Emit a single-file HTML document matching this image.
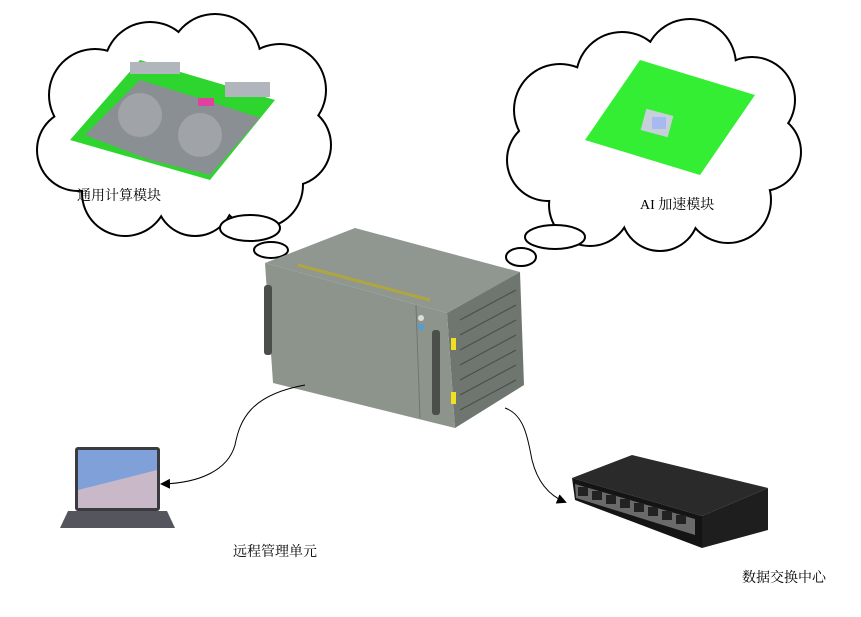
<!DOCTYPE html>
<html><head><meta charset="utf-8"><style>
html,body{margin:0;padding:0;background:#fff;width:861px;height:617px;overflow:hidden}
svg{display:block}
text{font-family:"Liberation Serif","Noto Serif CJK SC",serif;font-size:14px;fill:#000}
</style></head><body>
<svg width="861" height="617" viewBox="0 0 861 617" xmlns="http://www.w3.org/2000/svg">
<defs>
<marker id="ah" markerWidth="10" markerHeight="10" refX="8" refY="5" orient="auto" markerUnits="userSpaceOnUse">
<path d="M0,0 L10,5 L0,10 Z" fill="#000"/></marker>
</defs>
<g stroke="#000" stroke-width="4" fill="#fff">
<circle cx="95" cy="95" r="45"/><circle cx="150" cy="68" r="45"/><circle cx="215" cy="60" r="45"/>
<circle cx="280" cy="90" r="45"/><circle cx="290" cy="145" r="40"/><circle cx="260" cy="185" r="42"/>
<circle cx="195" cy="197" r="38"/><circle cx="125" cy="193" r="42"/><circle cx="78" cy="150" r="40"/>
</g>
<g fill="#fff">
<circle cx="95" cy="95" r="45"/><circle cx="150" cy="68" r="45"/><circle cx="215" cy="60" r="45"/>
<circle cx="280" cy="90" r="45"/><circle cx="290" cy="145" r="40"/><circle cx="260" cy="185" r="42"/>
<circle cx="195" cy="197" r="38"/><circle cx="125" cy="193" r="42"/><circle cx="78" cy="150" r="40"/>
<circle cx="185" cy="130" r="85"/>
</g>
<ellipse cx="250" cy="228" rx="30" ry="13" fill="#fff" stroke="#000" stroke-width="2"/>
<ellipse cx="271" cy="250" rx="17" ry="8" fill="#fff" stroke="#000" stroke-width="2"/>
<g stroke="#000" stroke-width="4" fill="#fff">
<circle cx="560" cy="110" r="45"/><circle cx="622" cy="78" r="45"/><circle cx="690" cy="65" r="45"/>
<circle cx="752" cy="100" r="42"/><circle cx="762" cy="152" r="38"/><circle cx="728" cy="200" r="42"/>
<circle cx="660" cy="212" r="38"/><circle cx="590" cy="205" r="40"/><circle cx="548" cy="160" r="40"/>
</g>
<g fill="#fff">
<circle cx="560" cy="110" r="45"/><circle cx="622" cy="78" r="45"/><circle cx="690" cy="65" r="45"/>
<circle cx="752" cy="100" r="42"/><circle cx="762" cy="152" r="38"/><circle cx="728" cy="200" r="42"/>
<circle cx="660" cy="212" r="38"/><circle cx="590" cy="205" r="40"/><circle cx="548" cy="160" r="40"/>
<circle cx="655" cy="140" r="85"/>
</g>
<ellipse cx="555" cy="237" rx="30" ry="12" fill="#fff" stroke="#000" stroke-width="2"/>
<ellipse cx="521" cy="257" rx="15" ry="9" fill="#fff" stroke="#000" stroke-width="2"/>
<polygon points="70,140 140,60 275,100 210,180" fill="#2fd52f"/>
<polygon points="85,135 140,80 205,100 150,160" fill="#8a8f94"/>
<polygon points="150,160 205,100 260,118 210,175" fill="#8a8f94"/>
<circle cx="140" cy="115" r="22" fill="#a0a4a8"/><circle cx="200" cy="135" r="22" fill="#a0a4a8"/>
<rect x="130" y="62" width="50" height="12" fill="#b0b6bb"/><rect x="225" y="82" width="45" height="15" fill="#b0b6bb"/>
<rect x="198" y="98" width="16" height="8" fill="#e040a0"/>
<polygon points="585,140 640,60 755,95 700,175" fill="#33ee33"/>
<rect x="643" y="112" width="28" height="22" fill="#c5d0d8" transform="rotate(15 657 123)"/>
<rect x="652" y="117" width="14" height="12" fill="#a8b8f0"/>
<polygon points="265,263 355,228 520,272 447,313" fill="#8f9790"/>
<polygon points="447,313 520,272 524,385 455,428" fill="#6f7670"/>
<g stroke="#4a4f4a" stroke-width="1.2">
<line x1="460" y1="320" x2="516" y2="290"/><line x1="460" y1="335" x2="516" y2="305"/><line x1="460" y1="350" x2="516" y2="320"/>
<line x1="460" y1="365" x2="516" y2="335"/><line x1="460" y1="380" x2="516" y2="350"/><line x1="460" y1="395" x2="516" y2="365"/>
<line x1="460" y1="410" x2="516" y2="380"/>
</g>
<polygon points="265,263 447,313 455,428 273,383" fill="#8d948c"/>
<line x1="298" y1="265" x2="430" y2="300" stroke="#b0a640" stroke-width="3"/>
<line x1="416" y1="305" x2="420" y2="418" stroke="#6f766f" stroke-width="1"/>
<rect x="264" y="285" width="8" height="70" rx="3" fill="#4a4f4a"/>
<rect x="432" y="330" width="8" height="85" rx="3" fill="#4a4f4a"/>
<rect x="451" y="338" width="5" height="12" fill="#f0e020"/><rect x="451" y="392" width="5" height="12" fill="#f0e020"/>
<circle cx="421" cy="318" r="3" fill="#ddd"/><circle cx="421" cy="327" r="3" fill="#4aa0e0"/>
<path d="M305,385 C250,395 240,420 235,445 C228,470 200,483 162,484" fill="none" stroke="#000" stroke-width="1" marker-end="url(#ah)"/>
<path d="M505,408 C525,415 528,440 532,460 C537,480 548,495 565,502" fill="none" stroke="#000" stroke-width="1" marker-end="url(#ah)"/>
<rect x="75" y="447" width="85" height="64" rx="3" fill="#3a3b40"/>
<rect x="78" y="450" width="79" height="58" fill="#c8b8c8"/>
<polygon points="78,450 157,450 157,470 78,490" fill="#7fa0d8"/>
<polygon points="68,511 167,511 175,528 60,528" fill="#55555e"/>
<polygon points="572,478 632,455 768,488 702,516" fill="#2a2a2a"/>
<polygon points="572,478 702,516 702,548 575,500" fill="#141414"/>
<polygon points="702,516 768,488 768,530 702,548" fill="#1e1e1e"/>
<polyline points="575,484 695,519 695,535 576,498 575,484" fill="#6a6a6a"/>
<g fill="#222">
<rect x="578" y="487" width="10" height="9"/><rect x="592" y="491" width="10" height="9"/>
<rect x="606" y="495" width="10" height="9"/><rect x="620" y="499" width="10" height="9"/>
<rect x="634" y="503" width="10" height="9"/><rect x="648" y="507" width="10" height="9"/>
<rect x="662" y="511" width="10" height="9"/><rect x="676" y="515" width="10" height="9"/>
</g>
<text x="77" y="200">通用计算模块</text>
<text x="640" y="209">AI 加速模块</text>
<text x="233" y="556">远程管理单元</text>
<text x="742" y="582">数据交换中心</text>
</svg>
</body></html>
